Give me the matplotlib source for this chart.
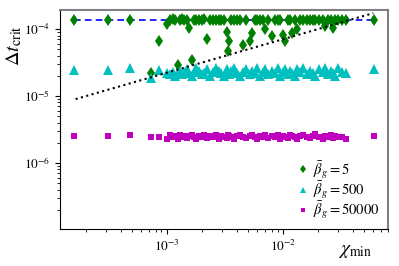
import numpy as np
import matplotlib
matplotlib.use("Agg")
import matplotlib.pyplot as plt

plt.rcParams['mathtext.fontset'] = 'stix'
plt.rcParams['font.family'] = 'STIXGeneral'

# chi_min de cada simulacion
chi_min = [1.6e-4, 3.1e-4, 4.8e-4, 7.3e-4, 8.5e-4, 1.0e-3,
           1.07e-3, 1.12e-3, 1.18e-3, 1.24e-3, 1.3e-3, 1.36e-3, 1.42e-3, 1.48e-3, 1.55e-3, 1.64e-3,
           1.72e-3, 1.8e-3, 1.9e-3, 2.0e-3, 2.1e-3, 2.21e-3, 2.35e-3, 2.5e-3, 2.65e-3, 2.8e-3,
           2.95e-3, 3.1e-3, 3.3e-3, 3.36e-3, 3.45e-3, 3.6e-3, 3.8e-3, 4.0e-3, 4.25e-3, 4.5e-3,
           4.8e-3, 5.2e-3, 5.4e-3, 5.7e-3, 6.0e-3, 6.3e-3, 6.7e-3, 7.0e-3, 7.5e-3, 8.0e-3,
           8.5e-3, 9.0e-3, 9.5e-3, 1.0e-2, 1.05e-2, 1.1e-2, 1.16e-2, 1.2e-2, 1.26e-2, 1.32e-2,
           1.4e-2, 1.5e-2, 1.6e-2, 1.7e-2, 1.8e-2, 1.9e-2, 2.05e-2, 2.2e-2, 2.3e-2, 2.45e-2,
           2.6e-2, 2.7e-2, 2.8e-2, 3.0e-2, 3.2e-2, 3.5e-2,
           6.1e-2]

# dt critico para beta = 5
dt_5 = [1.38e-4, 1.38e-4, 1.38e-4, 2.2e-5, 6.6e-5, 1.2e-4,
        1.36e-4, 1.4e-4, 1.38e-4, 2.9e-5, 1.36e-4, 1.4e-4, 1.37e-4, 1.38e-4, 1.04e-4, 3.45e-5,
        1.38e-4, 1.36e-4, 1.38e-4, 1.37e-4, 1.39e-4, 7.0e-5, 1.37e-4, 1.38e-4, 1.36e-4, 1.38e-4,
        1.37e-4, 1.38e-4, 9.0e-5, 4.7e-5, 6.6e-5, 1.38e-4, 1.37e-4, 1.36e-4, 1.38e-4, 5.8e-5,
        1.38e-4, 6.6e-5, 8.7e-5, 1.38e-4, 1.35e-4, 1.38e-4, 1.37e-4, 1.0e-4, 1.38e-4, 7.9e-5,
        1.37e-4, 1.38e-4, 1.36e-4, 8.1e-5, 6.6e-5, 1.38e-4, 1.37e-4, 8.7e-5, 1.38e-4, 1.0e-4,
        1.37e-4, 1.38e-4, 1.36e-4, 1.38e-4, 1.37e-4, 1.38e-4, 1.36e-4, 1.38e-4, 1.1e-4, 1.38e-4,
        1.37e-4, 1.04e-4, 1.38e-4, 1.36e-4, 1.38e-4, 1.37e-4,
        1.38e-4]

# dt critico para beta = 500
dt_500 = [2.45e-5, 2.45e-5, 2.6e-5, 1.86e-5, 2.45e-5, 2.2e-5,
          2.1e-5, 2.3e-5, 2.0e-5, 2.2e-5, 2.4e-5, 2.1e-5, 2.3e-5, 2.5e-5, 2.2e-5, 2.0e-5,
          2.3e-5, 2.6e-5, 2.4e-5, 2.1e-5, 2.2e-5, 2.5e-5, 2.0e-5, 2.3e-5, 2.6e-5, 2.4e-5,
          2.2e-5, 2.0e-5, 2.5e-5, 2.3e-5, 2.1e-5, 2.4e-5, 2.6e-5, 2.2e-5, 2.0e-5, 2.3e-5,
          2.5e-5, 2.1e-5, 2.4e-5, 2.2e-5, 2.6e-5, 2.0e-5, 2.3e-5, 2.5e-5, 2.1e-5, 2.4e-5,
          2.2e-5, 2.6e-5, 2.0e-5, 2.3e-5, 2.5e-5, 2.1e-5, 2.4e-5, 2.2e-5, 2.0e-5, 2.5e-5,
          2.3e-5, 2.6e-5, 2.1e-5, 2.4e-5, 2.2e-5, 2.0e-5, 2.5e-5, 2.3e-5, 2.6e-5, 2.1e-5,
          2.4e-5, 2.2e-5, 2.0e-5, 2.6e-5, 2.3e-5, 2.2e-5,
          2.55e-5]

# dt critico para beta = 50000
dt_50000 = [2.55e-6, 2.55e-6, 2.6e-6, 2.4e-6, 2.45e-6, 2.3e-6,
            2.6e-6, 2.4e-6, 2.5e-6, 2.3e-6, 2.6e-6, 2.45e-6, 2.55e-6, 2.35e-6, 2.5e-6, 2.6e-6,
            2.4e-6, 2.3e-6, 2.55e-6, 2.45e-6, 2.6e-6, 2.35e-6, 2.5e-6, 2.4e-6, 2.6e-6, 2.3e-6,
            2.55e-6, 2.45e-6, 2.35e-6, 2.6e-6, 2.5e-6, 2.4e-6, 2.3e-6, 2.55e-6, 2.6e-6, 2.45e-6,
            2.35e-6, 2.5e-6, 2.6e-6, 2.4e-6, 2.3e-6, 2.55e-6, 2.45e-6, 2.6e-6, 2.35e-6, 2.5e-6,
            2.4e-6, 2.6e-6, 2.3e-6, 2.55e-6, 2.45e-6, 2.35e-6, 2.6e-6, 2.5e-6, 2.4e-6, 2.3e-6,
            2.55e-6, 2.6e-6, 2.45e-6, 2.35e-6, 2.5e-6, 2.7e-6, 2.4e-6, 2.3e-6, 2.55e-6, 2.45e-6,
            2.6e-6, 2.35e-6, 2.5e-6, 2.4e-6, 2.45e-6, 2.3e-6,
            2.55e-6]

# recta de referencia (pendiente 1/2) y nivel constante
ref_x = [1.64e-4, 6.0e-2]
ref_y = [9.0e-6, 1.73e-4]
nivel_x = [1.6e-4, 6.1e-2]
nivel_y = [1.38e-4, 1.38e-4]

fig = plt.figure(figsize=(3.99, 2.66), dpi=100)
ax = fig.add_axes([0.150, 0.139, 0.822, 0.823])

ax.loglog(nivel_x, nivel_y, 'b--', lw=1.2, dashes=(4, 2.5), zorder=1)
ax.loglog(chi_min, dt_5, 'gd', ms=6.5, mew=0, label=r'$\bar{\beta}_g = 5$', zorder=2)
ax.loglog(chi_min, dt_500, 'c^', ms=6.5, mew=0, label=r'$\bar{\beta}_g = 500$', zorder=2)
ax.loglog(chi_min, dt_50000, 'ms', ms=5, mew=0, label=r'$\bar{\beta}_g = 50000$', zorder=2)
ax.loglog(ref_x, ref_y, 'k:', lw=1.5, zorder=3)

ax.set_xlim(1.2e-4, 8.0e-2)
ax.set_ylim(1.03e-7, 1.92e-4)

ax.set_ylabel(r'$\Delta t_{\mathrm{crit}}$', fontsize=14.5)
ax.yaxis.set_label_coords(-0.11, 0.84)
ax.set_xlabel(r'$\chi_{\mathrm{min}}$', fontsize=14)
ax.xaxis.set_label_coords(0.90, -0.065)

ax.tick_params(which='major', labelsize=9.5, length=3.5, width=0.8, direction='out')
ax.tick_params(which='minor', length=2, width=0.6, direction='out')
ax.tick_params(top=False, right=False, which='both')

for s in ['top', 'right']:
    ax.spines[s].set_color('0.5')
    ax.spines[s].set_linewidth(1.5)

ax.legend(loc='lower right', frameon=False, fontsize=10.5, markerscale=0.7,
          handlelength=0.8, handletextpad=0.3, labelspacing=-0.1,
          borderaxespad=0.15)

fig.savefig('out.png', dpi=100)
